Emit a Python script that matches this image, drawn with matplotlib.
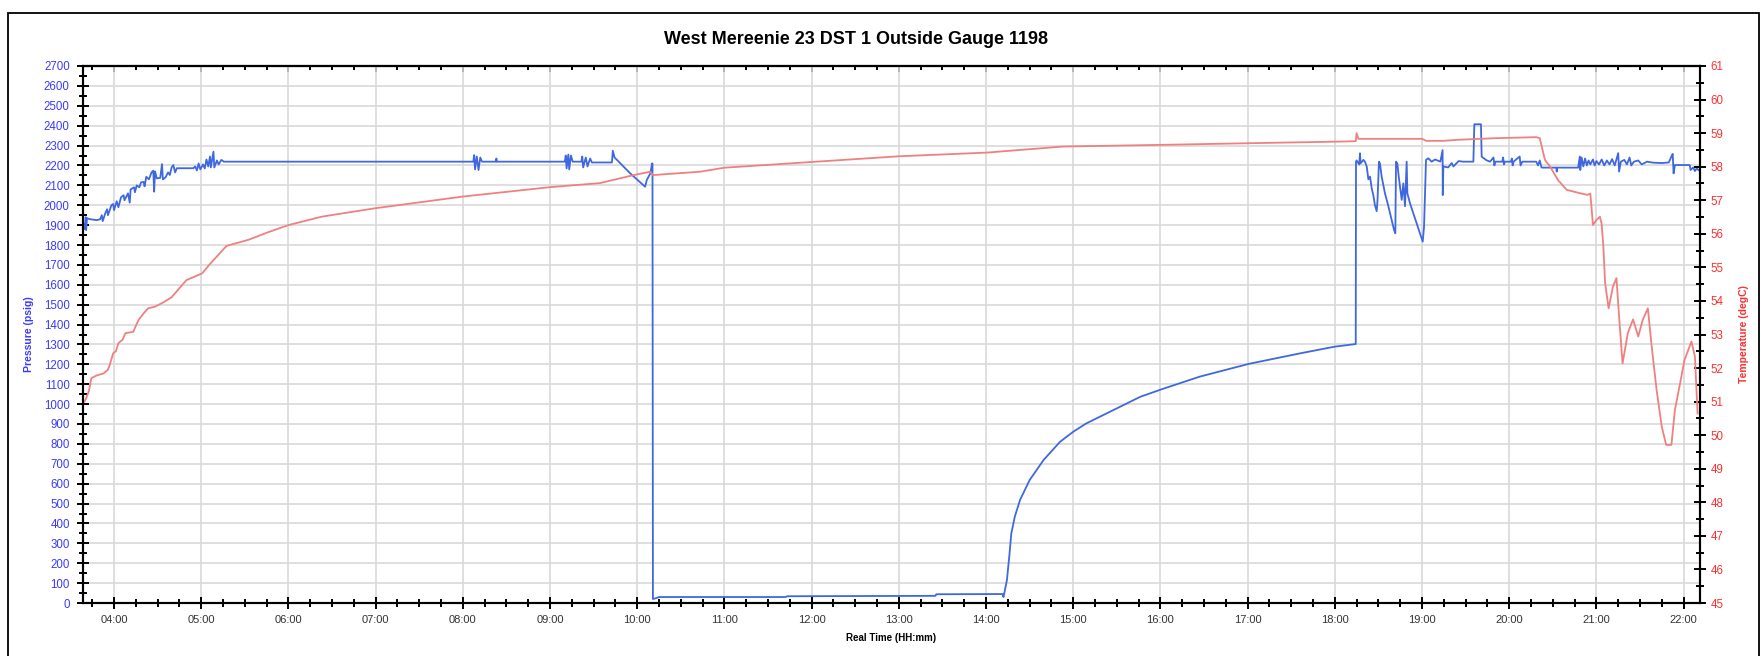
import matplotlib
matplotlib.use("Agg")
import matplotlib.pyplot as plt
from matplotlib.ticker import MultipleLocator, FuncFormatter
from matplotlib.patches import Rectangle

plt.rcParams["font.family"] = ["Liberation Sans", "DejaVu Sans"]

TITLE = "West Mereenie 23 DST 1 Outside Gauge 1198"

# pressure trace (hours of day, psig)
p_time = [
    3.645, 3.655, 3.665, 3.675, 3.68, 3.69, 3.72, 3.80, 3.84, 3.86, 3.87, 3.90,
    3.92, 3.93, 3.97, 3.99, 4.00, 4.03, 4.05, 4.08, 4.11, 4.12, 4.16, 4.18,
    4.19, 4.23, 4.24, 4.26, 4.29, 4.31, 4.34, 4.35, 4.37, 4.40, 4.43, 4.45,
    4.46, 4.47, 4.49, 4.53, 4.55, 4.56, 4.59, 4.62, 4.64, 4.66, 4.68, 4.70,
    4.72, 4.76, 4.80, 4.85, 4.91, 4.93, 4.95, 4.97, 4.99, 5.02, 5.04, 5.06,
    5.08, 5.10, 5.11, 5.14, 5.15, 5.18, 5.20, 5.23, 5.26,
    8.12, 8.13, 8.14, 8.16, 8.18, 8.20, 8.22, 8.38, 8.385, 8.39,
    9.17, 9.18, 9.19, 9.21, 9.22, 9.24, 9.26, 9.36, 9.37, 9.38, 9.41, 9.43,
    9.46, 9.48, 9.71, 9.72, 9.74, 9.92, 10.09, 10.11, 10.15, 10.17, 10.175,
    10.18, 10.22, 10.25, 11.70, 11.72, 13.42, 13.43, 14.19, 14.20, 14.21,
    14.24, 14.27, 14.29, 14.33, 14.39, 14.50, 14.66, 14.85, 15.00, 15.15,
    15.46, 15.77, 16.01, 16.45, 17.01, 17.60, 18.00, 18.24,
    18.243, 18.25, 18.28, 18.289, 18.295, 18.327, 18.345, 18.366, 18.385,
    18.404, 18.423, 18.442, 18.46, 18.48, 18.49, 18.506, 18.518, 18.537,
    18.575, 18.614, 18.652, 18.679, 18.694, 18.702, 18.717, 18.733, 18.748,
    18.767, 18.786, 18.805, 18.824, 18.832, 18.862, 18.90, 18.939, 18.977,
    19.008, 19.023, 19.046, 19.073, 19.11, 19.15, 19.21, 19.236, 19.238,
    19.245, 19.30, 19.34, 19.36, 19.42, 19.47, 19.589, 19.60, 19.676, 19.684,
    19.74, 19.78, 19.82, 19.83, 19.84, 19.92, 19.93, 19.94, 19.95, 20.02,
    20.03, 20.04, 20.05, 20.12, 20.13, 20.15, 20.31, 20.33, 20.35, 20.37,
    20.39, 20.54, 20.545, 20.55, 20.79, 20.81, 20.815, 20.83, 20.85, 20.87,
    20.89, 20.91, 20.93, 20.96, 20.98, 21.00, 21.03, 21.06, 21.09, 21.12,
    21.15, 21.18, 21.21, 21.25, 21.26, 21.28, 21.32, 21.35, 21.38, 21.40,
    21.43, 21.48, 21.52, 21.58, 21.65, 21.75, 21.83, 21.86, 21.875, 21.885,
    21.90, 22.07, 22.08, 22.11, 22.13, 22.15, 22.17,
]
p_psig = [
    1875, 1905, 1880, 1940, 1875, 1935, 1930, 1925, 1929, 1950, 1920, 1960,
    1980, 1950, 2000, 2006, 1975, 2020, 1990, 2040, 2050, 2025, 2060, 2013,
    2080, 2090, 2065, 2100, 2090, 2115, 2117, 2095, 2143, 2130, 2165, 2174,
    2068, 2170, 2135, 2138, 2207, 2130, 2140, 2165, 2152, 2190, 2202, 2165,
    2186, 2186, 2186, 2186, 2186, 2195, 2175, 2210, 2180, 2205, 2185, 2230,
    2195, 2245, 2190, 2269, 2190, 2225, 2205, 2228, 2219,
    2219, 2252, 2180, 2245, 2177, 2240, 2219, 2219, 2235, 2219,
    2219, 2250, 2185, 2255, 2180, 2250, 2219, 2219, 2245, 2190, 2240, 2195,
    2235, 2215, 2215, 2274, 2240, 2160, 2093, 2127, 2160, 2210, 2210,
    20, 25, 30, 30, 34, 36, 44, 45, 30, 50,
    116, 250, 350, 434, 518, 618, 719, 811, 861, 903,
    970, 1037, 1074, 1138, 1202, 1255, 1289, 1302,
    2219, 2225, 2205, 2261, 2210, 2228, 2219, 2195, 2130,
    2144, 2085, 2050, 2000, 1970, 2027, 2219, 2210, 2144,
    2060, 1995, 1926, 1876, 1859, 2219, 2210, 2144, 2094,
    2027, 2110, 1995, 2219, 2060, 2010, 1960, 1910, 1859,
    1817, 1890, 2228, 2236, 2219, 2230, 2219, 2277, 2051,
    2195, 2190, 2212, 2195, 2222, 2219, 2219, 2407, 2407, 2244,
    2226, 2219, 2240, 2200, 2219, 2219, 2240, 2205, 2219, 2219,
    2235, 2200, 2219, 2245, 2200, 2219, 2219, 2200, 2225, 2190,
    2189, 2189, 2169, 2189, 2189, 2245, 2177, 2240, 2195, 2235,
    2200, 2225, 2205, 2230, 2200, 2222, 2205, 2230, 2200, 2225,
    2205, 2232, 2200, 2262, 2169, 2219, 2228, 2205, 2240, 2200,
    2219, 2225, 2205, 2219, 2214, 2212, 2215, 2245, 2258, 2160,
    2202, 2202, 2177, 2190, 2172, 2185, 2177,
]

# temperature trace (hours of day, degC)
t_time = [
    3.66, 3.68, 3.71, 3.74, 3.80, 3.88, 3.93, 3.95, 3.99, 4.02, 4.05, 4.10,
    4.13, 4.22, 4.28, 4.33, 4.39, 4.47, 4.56, 4.66, 4.75, 4.83, 4.92, 5.01,
    5.10, 5.16, 5.29, 5.54, 5.77, 6.00, 6.38, 6.99, 8.00, 9.00, 9.57, 9.75,
    9.96, 10.15, 10.18, 10.72, 11.00, 12.00, 13.00, 14.01, 14.88, 16.00,
    17.03, 18.10, 18.24, 18.25, 18.27, 19.00, 19.05, 19.25, 19.40, 19.85,
    20.31, 20.35, 20.41, 20.47, 20.56, 20.66, 20.81, 20.90, 20.93, 20.95,
    20.96, 21.00, 21.04, 21.06, 21.08, 21.10, 21.14, 21.19, 21.23, 21.26,
    21.30, 21.36, 21.42, 21.48, 21.53, 21.59, 21.63, 21.69, 21.75, 21.80,
    21.86, 21.90, 21.96, 22.01, 22.09, 22.13, 22.16,
]
t_degc = [
    51.0, 51.1, 51.3, 51.7, 51.78, 51.84, 51.95, 52.09, 52.44, 52.5, 52.74, 52.85,
    53.04, 53.08, 53.43, 53.6, 53.78, 53.83, 53.95, 54.11, 54.38, 54.62, 54.72, 54.82,
    55.1, 55.27, 55.64, 55.82, 56.05, 56.26, 56.51, 56.76, 57.11, 57.39, 57.51, 57.62,
    57.75, 57.85, 57.75, 57.85, 57.97, 58.14, 58.31, 58.42, 58.6, 58.65,
    58.70, 58.75, 58.76, 59.0, 58.83, 58.83, 58.77, 58.77, 58.8, 58.85,
    58.88, 58.85, 58.2, 58.0, 57.6, 57.31, 57.21, 57.16, 57.2, 56.6,
    56.26, 56.41, 56.51, 56.3, 55.6, 54.53, 53.78, 54.43, 54.68, 53.53,
    52.14, 53.04, 53.45, 52.94, 53.43, 53.78, 52.74, 51.35, 50.25, 49.71,
    49.71, 50.75, 51.55, 52.24, 52.79, 52.34, 50.65,
]

BLUE = "#3f68e0"
RED = "#f08080"
LBL_BLUE = "#3a3aff"
LBL_RED = "#ff3030"

fig = plt.figure(figsize=(17.65, 6.56), dpi=100)
# outer frame, bottom edge runs off the image
fig.patches.append(Rectangle((8 / 1765, -0.05), 1751 / 1765, 1.05 - 13 / 656,
                             transform=fig.transFigure, fill=False,
                             edgecolor="black", linewidth=1.3))

ax = fig.add_axes([83 / 1765, 1 - 603 / 656, (1700 - 83) / 1765, (603 - 66) / 656])
ax2 = ax.twinx()

ax.plot(p_time, p_psig, color=BLUE, lw=1.3)
ax2.plot(t_time, t_degc, color=RED, lw=1.3)

ax.set_xlim(3.644, 22.188)
ax.set_ylim(0, 2700)
ax2.set_ylim(45, 61)

ax.xaxis.set_major_locator(MultipleLocator(1))
ax.xaxis.set_minor_locator(MultipleLocator(0.25))
ax.xaxis.set_major_formatter(FuncFormatter(lambda v, p: f"{int(round(v)):02d}:00"))
ax.yaxis.set_major_locator(MultipleLocator(100))
ax.yaxis.set_minor_locator(MultipleLocator(50))
ax2.yaxis.set_major_locator(MultipleLocator(1))
ax2.yaxis.set_minor_locator(MultipleLocator(0.5))

ax.grid(True, which="major", color="#d9d9d9", lw=1.2)
ax.set_axisbelow(True)

for a in (ax, ax2):
    for s in a.spines.values():
        s.set_linewidth(1.5)

ax.tick_params(axis="y", which="major", direction="inout", length=9, width=1.4,
               labelsize=8.3, labelcolor=LBL_BLUE, pad=5)
ax.tick_params(axis="y", which="minor", direction="inout", length=5.5, width=1.4)
ax.tick_params(axis="x", which="major", direction="inout", length=9, width=1.4,
               labelsize=8, labelcolor="#333333", pad=4)
ax.tick_params(axis="x", which="minor", direction="inout", length=5.5, width=1.4)
ax2.tick_params(axis="y", which="major", direction="inout", length=9, width=1.4,
                labelsize=8.3, labelcolor=LBL_RED, pad=3)
ax2.tick_params(axis="y", which="minor", direction="inout", length=5.5, width=1.4)

top = ax.secondary_xaxis("top")
top.xaxis.set_major_locator(MultipleLocator(1))
top.xaxis.set_minor_locator(MultipleLocator(0.25))
top.tick_params(axis="x", which="major", direction="in", length=4.5, width=1.4, labeltop=False)
top.tick_params(axis="x", which="minor", direction="in", length=3, width=1.4)
top.spines["top"].set_linewidth(1.5)

ax.set_xlabel("Real Time (HH:mm)", fontsize=7, fontweight="bold", labelpad=6)
ax.set_ylabel("Pressure (psig)", fontsize=7.5, fontweight="bold", color=LBL_BLUE, labelpad=7)
ax2.set_ylabel("Temperature (degC)", fontsize=7.5, fontweight="bold", color=LBL_RED,
               rotation=90, labelpad=11)

fig.text(856 / 1765, 1 - 39 / 656, TITLE, ha="center", va="center",
         fontsize=13, fontweight="bold")

fig.savefig("out.png", dpi=100)
